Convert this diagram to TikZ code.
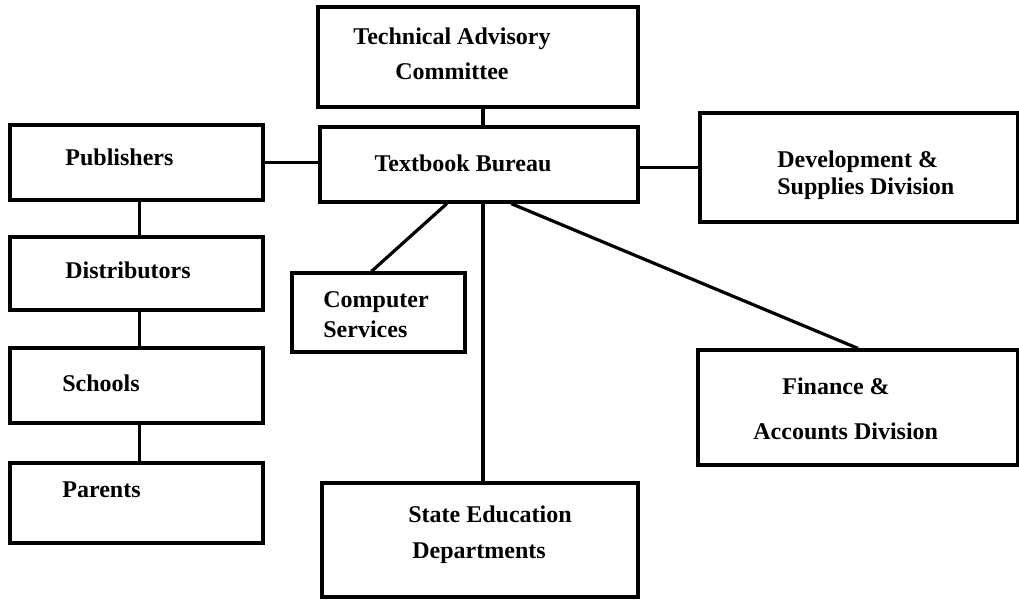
\documentclass[tikz,border=0pt]{standalone}
\usepackage{fontspec}
\setmainfont{Liberation Serif}
\usetikzlibrary{calc}

\tikzset{
  box/.style 2 args={draw, line width=1.6pt, minimum width=#1, minimum height=#2, inner sep=0pt},
  lbl/.style={font=\fontsize{12}{14}\selectfont\bfseries, align=left, anchor=west, inner sep=0pt},
  link/.style={line width=1.6pt}
}

\begin{document}
\begin{tikzpicture}[x=0.5pt, y=-0.5pt]
\useasboundingbox (0,0) rectangle (1019,602);
% boxes
\node[box={160pt}{50pt}] (tac) at (478,57) {};
\node[box={159pt}{37.5pt}] (bureau) at (479,164.5) {};
\node[box={126.5pt}{37.5pt}] (pub) at (136.5,162.5) {};
\node[box={126.5pt}{36.5pt}] (dist) at (136.5,273.5) {};
\node[box={126.5pt}{37.5pt}] (schools) at (136.5,385.5) {};
\node[box={126.5pt}{40pt}] (parents) at (136.5,503) {};
\node[box={159pt}{54.5pt}] (dev) at (859,167.5) {};
\node[box={86.5pt}{39.5pt}] (comp) at (378.5,312.5) {};
\node[box={160pt}{57.5pt}] (fin) at (858,407.5) {};
\node[box={158pt}{57pt}] (sed) at (480,540) {};
% labels
\node[lbl, align=center, anchor=center] (tactext) at (452,54) {Technical Advisory\\[3.5pt]Committee};
\node[lbl, anchor=center] (bureautext) at (463,163) {Textbook Bureau};
\node[lbl] (pubtext) at (65,157) {Publishers};
\node[lbl] (disttext) at (65,270) {Distributors};
\node[lbl] (schtext) at (62,383) {Schools};
\node[lbl] (partext) at (62,490) {Parents};
\node[lbl] (devtext) at (777,175) {Development \&\\[-0.5pt]Supplies Division};
\node[lbl] (comptext) at (323,315) {Computer\\[1pt]Services};
\node[lbl] (fintext) at (753,409) {\hspace*{14.5pt}Finance \&\\[8.5pt]Accounts Division};
\node[lbl] (sedtext) at (408,535) {State Education\\[4pt]\hspace*{2pt}Departments};
% links
\draw[link] ([xshift=2.5pt]tac.south) -- ([xshift=2pt]bureau.north);
\draw[link] (pub.east) -- (pub.east -| bureau.west);
\draw[link] (dev.west) -- (dev.west -| bureau.east);
\draw[link] ([xshift=1.5pt]pub.south) -- ([xshift=1.5pt]dist.north);
\draw[link] ([xshift=1.5pt]dist.south) -- ([xshift=1.5pt]schools.north);
\draw[link] ([xshift=1.5pt]schools.south) -- ([xshift=1.5pt]parents.north);
\draw[link] ($(bureau.south west)!0.4!(bureau.south east)$) -- ($(comp.north west)!0.46!(comp.north east)$);
\draw[link] ([xshift=2pt]bureau.south) -- ([xshift=1.5pt]sed.north);
\draw[link] ($(bureau.south west)!0.6!(bureau.south east)$) -- (fin.north);
\end{tikzpicture}
\end{document}
